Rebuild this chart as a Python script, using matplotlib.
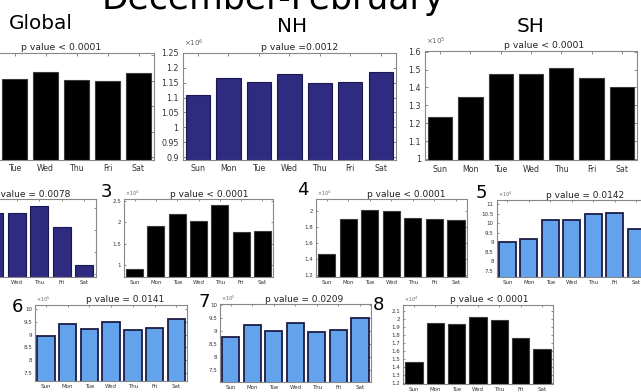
import numpy as np
import matplotlib
matplotlib.use("Agg")
import matplotlib.pyplot as plt
from matplotlib.ticker import FuncFormatter, MultipleLocator

# ---------------- data ----------------
days = ['Sun', 'Mon', 'Tue', 'Wed', 'Thu', 'Fri', 'Sat']

global_vals = [1.230e6, 1.298e6, 1.305e6, 1.333e6, 1.302e6, 1.299e6, 1.330e6]
nh_vals     = [1.107e6, 1.164e6, 1.152e6, 1.180e6, 1.148e6, 1.151e6, 1.186e6]
sh_vals     = [1.235e5, 1.345e5, 1.477e5, 1.477e5, 1.510e5, 1.453e5, 1.400e5]
r2_vals     = [1.50e5, 2.30e5, 2.38e5, 2.38e5, 2.54e5, 2.06e5, 1.22e5]
r3_vals     = [0.90e4, 1.91e4, 2.20e4, 2.03e4, 2.39e4, 1.76e4, 1.79e4]
r4_vals     = [1.46e4, 1.90e4, 2.01e4, 2.00e4, 1.91e4, 1.89e4, 1.88e4]
r5_vals     = [9.00e4, 9.15e4, 10.20e4, 10.20e4, 10.50e4, 10.55e4, 9.70e4]
r6_vals     = [8.95e5, 9.43e5, 9.22e5, 9.51e5, 9.18e5, 9.25e5, 9.61e5]
r7_vals     = [8.77e5, 9.22e5, 9.00e5, 9.31e5, 8.96e5, 9.05e5, 9.49e5]
r8_vals     = [1.46e4, 1.95e4, 1.94e4, 2.02e4, 1.99e4, 1.76e4, 1.62e4]

titles = ['p value < 0.0001', 'p value =0.0012', 'p value < 0.0001',
          'p value = 0.0078', 'p value < 0.0001', 'p value < 0.0001',
          'p value = 0.0142', 'p value = 0.0141', 'p value = 0.0209',
          'p value < 0.0001']
series = [global_vals, nh_vals, sh_vals, r2_vals, r3_vals, r4_vals,
          r5_vals, r6_vals, r7_vals, r8_vals]
exponents = [6, 6, 5, 5, 4, 4, 4, 5, 5, 4]
ylims = [(0.992, 1.408), (0.8926, 1.25), (0.9916, 1.6056), (0.95, 2.70),
         (0.73, 2.54), (1.18, 2.14), (7.15, 11.23), (7.19, 10.16),
         (7.06, 10.04), (1.19, 2.17)]
ysteps = [0.1, 0.05, 0.1, 0.5, 0.5, 0.2, 0.5, 0.5, 0.5, 0.1]
panel_numbers = ['', '', '', '2', '3', '4', '5', '6', '7', '8']

# ---------------- layout ----------------
W, H = 641, 392
fig = plt.figure(figsize=(W / 100, H / 100), dpi=100)
plt.rcParams['font.family'] = ['DejaVu Sans']

def fx(px):
    return px / W

def fy(py):
    return 1 - py / H

# (left, top, right, bottom) in pixels
boxes = [(-63, 53, 154, 159.5), (182.7, 52.7, 396, 159.5), (425, 50.7, 637, 160.5),
         (-62, 199, 95.5, 276.5), (124, 199, 273, 276.5), (316, 199.3, 466.7, 276.7),
         (496.7, 200, 647, 277.3),
         (35, 305, 187.3, 380.7), (220, 304, 370.7, 381.5), (403.3, 305, 552.7, 384)]
title_cx = [61, 300, 544, 31, 209.7, 406.5, 584.7, 125, 304.5, 489]
number_pos = [None, None, None, (-20, 198), (101, 197), (297, 195), (476, 198),
              (12, 312), (199, 307), (373, 310)]

dark_blue = '#2e2b80'
light_blue = '#63a3ec'
styles = ['black', 'dblue', 'black', 'dblue', 'black', 'black',
          'lblue', 'lblue', 'lblue', 'black']

x = np.arange(1, 8)
for i, vals in enumerate(series):
    l, t, r, b = boxes[i]
    ax = fig.add_axes([l / W, 1 - b / H, (r - l) / W, (b - t) / H])
    st = styles[i]
    if st == 'black':
        fc, ec, lw = 'black', '#3a3a3a', 0.8
    elif st == 'dblue':
        fc, ec, lw = dark_blue, '#1a1850', 0.8
    else:
        fc, ec, lw = light_blue, '#1b1c48', 1.3
    ax.bar(x, vals, width=0.8, color=fc, edgecolor=ec, linewidth=lw, zorder=2)
    e = exponents[i]
    lo, hi = ylims[i]
    ax.set_xlim(0.5, 7.5)
    ax.set_ylim(lo * 10 ** e, hi * 10 ** e)
    ax.yaxis.set_major_locator(MultipleLocator(ysteps[i] * 10 ** e))
    ax.yaxis.set_major_formatter(
        FuncFormatter(lambda v, p, e=e: '%g' % round(v / 10 ** e, 6)))
    ax.set_xticks(x)
    ax.set_xticklabels(days)
    top_row = i < 3
    lsize = 5.7 if top_row else 4.0
    ax.tick_params(direction='in', top=True, right=True,
                   length=2.0 if top_row else 1.5, width=0.6, color='#777777',
                   labelsize=lsize, labelcolor='#333333',
                   pad=3.0 if top_row else 2.2)
    for sp in ax.spines.values():
        sp.set_color('#888888')
        sp.set_linewidth(0.8)
    # title
    fig.text(fx(title_cx[i]), fy(t - (3 if top_row else 2.5)), titles[i],
             ha='center', va='baseline', fontsize=6.7 if top_row else 6.5,
             color='#222222')
    # exponent label
    fig.text(fx(l + 1), fy(t - (6 if top_row else 3.5)), r'$\times10^{%d}$' % e,
             ha='left', va='baseline', fontsize=5.0 if top_row else 3.5,
             color='#666666')
    # panel number
    if number_pos[i] is not None:
        nx, ny = number_pos[i]
        fig.text(fx(nx), fy(ny), panel_numbers[i], ha='left', va='baseline',
                 fontsize=13, color='black')

# big labels
fig.text(fx(273.5), fy(8.5), 'December-February', ha='center', va='baseline',
         fontsize=24.9, color='black')
fig.text(fx(9), fy(29), 'Global', ha='left', va='baseline', fontsize=14.4, color='black')
fig.text(fx(277), fy(32), 'NH', ha='left', va='baseline', fontsize=14.4, color='black')
fig.text(fx(517), fy(32), 'SH', ha='left', va='baseline', fontsize=14.4, color='black')

fig.savefig('out.png', dpi=100, facecolor='white')
